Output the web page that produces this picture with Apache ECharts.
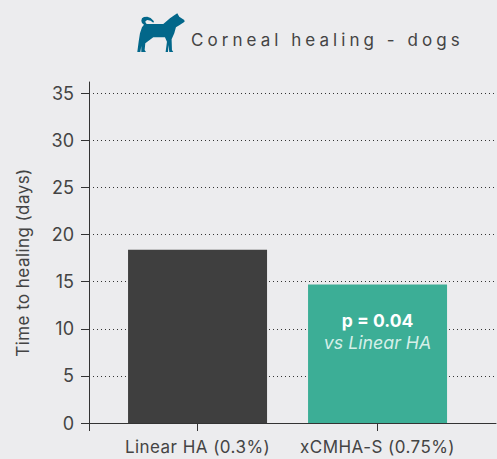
<!DOCTYPE html>
<html><head><meta charset="utf-8">
<style>html,body{margin:0;padding:0;background:#ececee}#c{width:497px;height:459px}</style>
<script src="https://cdn.jsdelivr.net/npm/echarts@6/dist/echarts.min.js"></script></head>
<body><div id="c"></div>
<script>
const categories = ['Linear HA (0.3%)', 'xCMHA-S (0.75%)'];
const positions = [0, 1];
const days = [18.4, 14.7];
const barColors = ['#3f3f3f', '#3cae96'];
const yTicks = [0, 5, 10, 15, 20, 25, 30, 35];
const titleText = 'Corneal healing - dogs';
const yName = 'Time to healing (days)';
const FONT = 'Inter';
const INK = '#444444';
const xMin = -0.603, xMax = 1.658;
const dogOutline = [[172,40],[178,50],[193,60],[194,65],[178,76],[168,82],[163,100],[155,118],[156,150],[160,156],[148,156],[146,135],[144,156],[137,156],[141,125],[135,112],[100,112],[92,118],[76,130],[74,150],[78,156],[64,156],[64,138],[61,156],[52,156],[56,125],[60,100],[66,82],[72,74],[66,69],[64,62],[66,55],[72,51],[82,50],[92,54],[102,64],[100,68],[92,62],[82,60],[77,63],[76,66],[80,72],[130,72],[150,55],[163,46]];

const chart = echarts.init(document.getElementById('c'), null, {renderer: 'svg'});
chart.setOption({
  animation: false,
  backgroundColor: '#ececee',
  title: {text: titleText, left: 191, top: 31, padding: 0,
    textStyle: {fontFamily: FONT, fontSize: 17, fontWeight: 400, color: INK}},
  grid: {left: 89, right: 1, top: 82, bottom: 36},
  graphic: [{type: 'polygon', x: 120, y: 0, scaleX: 1/3, scaleY: 1/3,
    shape: {points: dogOutline}, style: {fill: '#02678a'}}],
  xAxis: {type: 'value', min: xMin, max: xMax, splitLine: {show: false},
    axisLine: {onZero: false, lineStyle: {color: '#333', width: 1}},
    axisTick: {length: 8, lineStyle: {color: '#333'}, customValues: [xMin].concat(positions)},
    axisLabel: {customValues: positions, formatter: v => categories[Math.round(v)],
      fontFamily: FONT, fontSize: 17, color: INK, margin: 15}},
  yAxis: {type: 'value', min: 0, max: 36.2, interval: 5,
    name: yName, nameLocation: 'middle', nameGap: 58,
    nameTextStyle: {fontFamily: FONT, fontSize: 17, color: INK, padding: [0, 20, 0, 0]},
    axisLine: {show: true, onZero: false, lineStyle: {color: '#333', width: 1}},
    axisTick: {show: true, length: 8, lineStyle: {color: '#333'}, customValues: yTicks},
    axisLabel: {customValues: yTicks, fontFamily: FONT, fontSize: 18, color: INK, margin: 15},
    splitLine: {show: true, showMinLine: false, showMaxLine: true,
      lineStyle: {color: '#333', type: [1, 3], width: 1}}},
  series: [{type: 'bar', barWidth: 139, silent: true,
    data: positions.map((p, i) => ({value: [p, days[i]], itemStyle: {color: barColors[i]},
      label: i === 1 ? {show: true, position: 'insideTop', distance: 25,
        formatter: '{a|p = 0.04}\n{b|vs Linear HA}',
        rich: {a: {fontFamily: FONT, fontSize: 17.5, fontWeight: 700, color: '#fff', lineHeight: 22},
               b: {fontFamily: FONT, fontSize: 17.8, fontStyle: 'italic', color: '#d5efe8', lineHeight: 22}}} : {show: false}}))
  }]
});
function spaceText(){
  document.querySelectorAll('#c text').forEach(t => {
    const s = t.textContent;
    if (s === titleText) t.style.letterSpacing = '4.05px';
    else if (s === yName || categories.includes(s)) t.style.letterSpacing = '0.45px';
  });
}
spaceText();
chart.on('finished', spaceText);
</script></body></html>
